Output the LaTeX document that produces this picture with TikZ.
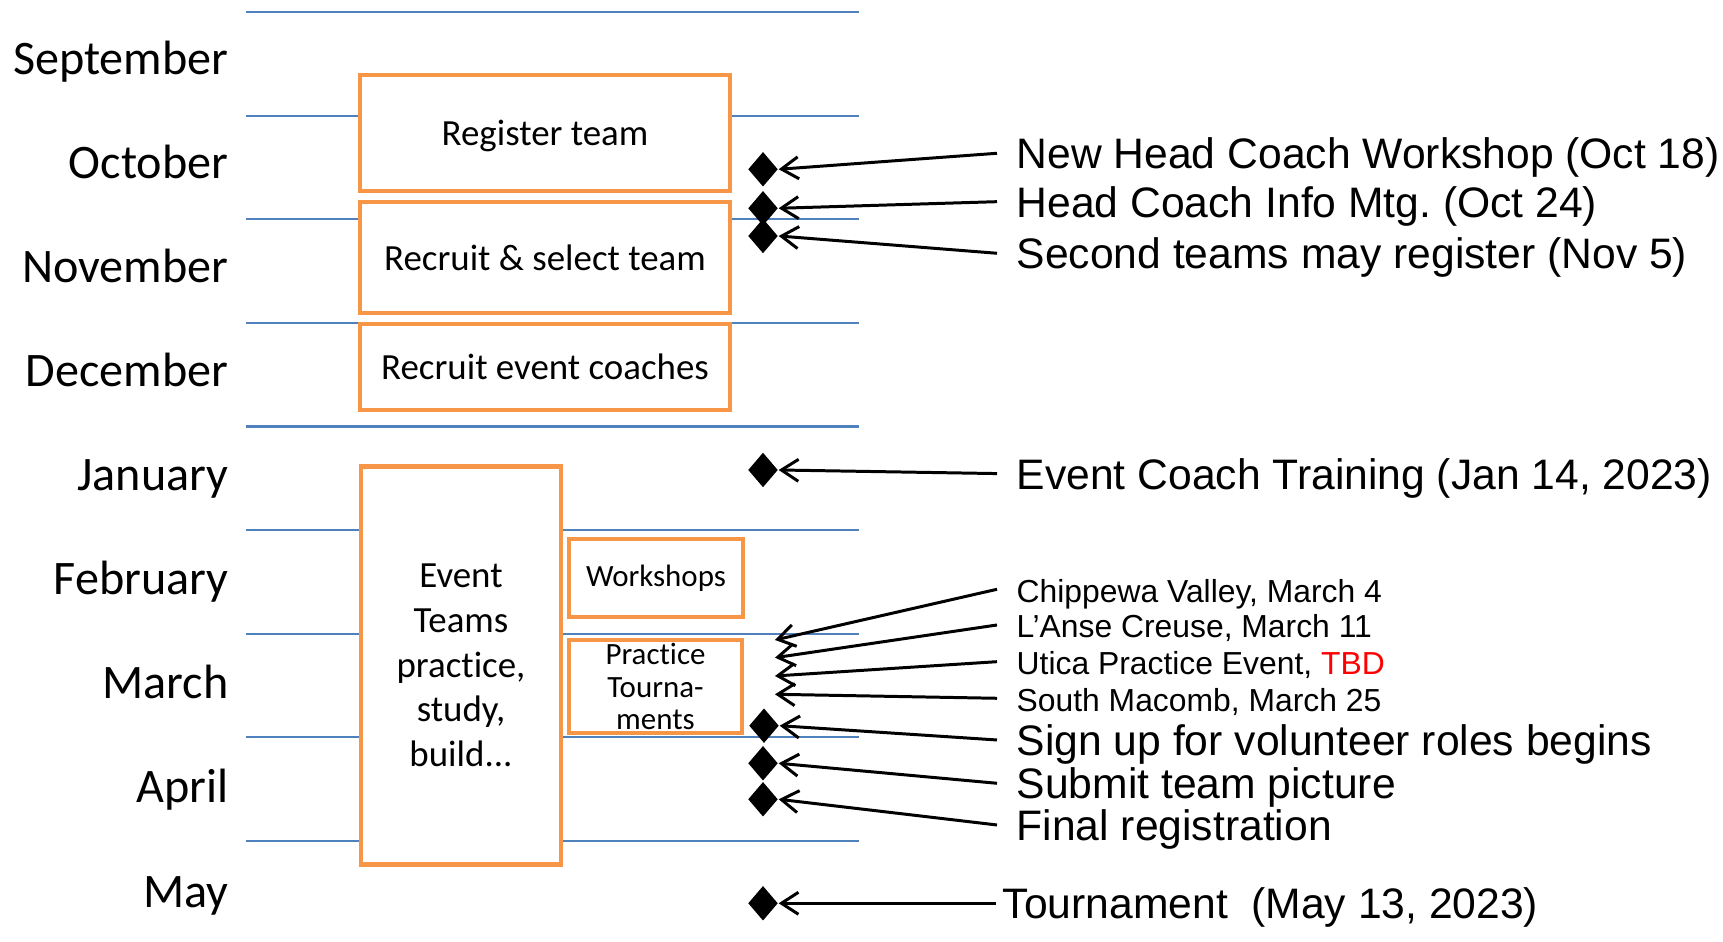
\documentclass[tikz,border=0pt]{standalone}
\usepackage{fontspec}
\setmainfont{Carlito}[Ligatures=NoCommon]
\newfontfamily\arialfont{Liberation Sans}
\usetikzlibrary{arrows.meta,shapes.geometric}
\definecolor{boxorange}{HTML}{F79646}
\definecolor{lineblue}{HTML}{4F81BD}
\tikzset{
	monthline/.style={lineblue, line width=0.6pt},
	month/.style={anchor=base east, inner sep=0pt, font=\fontsize{13.7}{16}\selectfont},
	taskbox/.style={draw=boxorange, line width=1.4pt, fill=white, align=center, inner sep=0pt, font=\fontsize{10.5}{12.7}\selectfont},
	smallbox/.style={taskbox, font=\fontsize{8.8}{9.2}\selectfont},
	milestone/.style={diamond, fill=black, inner sep=0pt, minimum width=0.30cm, minimum height=0.35cm},
	bigtext/.style={anchor=west, inner xsep=0.19cm, inner ysep=0pt, text height=0.88em, text depth=0pt, font=\arialfont\fontsize{12.13}{14}\selectfont},
	smalltext/.style={bigtext, text height=0.74em, font=\arialfont\fontsize{9.06}{10}\selectfont},
	pointer/.style={line width=0.85pt, -{Straight Barb[length=0.17cm, width=0.22cm]}}
}
\frenchspacing

\begin{document}
\begin{tikzpicture}
			%%%%% START %%%%%
			\useasboundingbox (0, 0) rectangle (17.23, 9.42);
			
			% month grid
			\foreach \i in {0,...,8}
				\draw[monthline] (2.46, {9.299-1.036*\i}) -- (8.59, {9.299-1.036*\i});
			\foreach \m [count=\i from 0] in {September, October, November, December, January, February, March, April, May}
				\node[month] (month\i) at (2.29, {8.677-1.041*\i}) {\m};
			
			% tasks
			\node[taskbox, minimum width=3.70cm, minimum height=1.16cm, text depth=0pt] (register) at (5.45, 8.09) {Register team};
			\node[taskbox, minimum width=3.70cm, minimum height=1.11cm] (recruit) at (5.45, 6.845) {Recruit \& select team};
			\node[taskbox, minimum width=3.70cm, minimum height=0.86cm] (coaches) at (5.45, 5.75) {Recruit event coaches};
			\node[taskbox, minimum width=2.00cm, minimum height=3.98cm] (teams) at (4.61, 2.765) {Event\\Teams\\practice,\\study,\\build...};
			\node[smallbox, minimum width=1.74cm, minimum height=0.78cm] (workshops) at (6.56, 3.64) {Workshops};
			\node[smallbox, minimum width=1.73cm, minimum height=0.93cm] (practice) at (6.555, 2.555) {Practice\\Tourna-\\ments};
			
			% milestones
			\node[milestone] (dWorkshop) at (7.63, 7.727) {};
			\node[milestone] (dInfoMtg) at (7.63, 7.337) {};
			\node[milestone] (dSecond) at (7.63, 7.06) {};
			\node[milestone] (dTraining) at (7.63, 4.72) {};
			\node[milestone] (dSignup) at (7.64, 2.163) {};
			\node[milestone] (dPicture) at (7.63, 1.787) {};
			\node[milestone] (dFinal) at (7.63, 1.427) {};
			\node[milestone] (dTournament) at (7.63, 0.387) {};
			\coordinate (pChippewa) at (7.75, 3.02);
			\coordinate (pLAnse) at (7.75, 2.843);
			\coordinate (pUtica) at (7.75, 2.66);
			\coordinate (pMacomb) at (7.75, 2.477);
			
			% labels
			\node[bigtext] (lWorkshop) at (9.97, 7.887) {New Head Coach Workshop (Oct 18)};
			\node[bigtext] (lInfoMtg) at (9.97, 7.403) {Head Coach Info Mtg. (Oct 24)};
			\node[bigtext] (lSecond) at (9.97, 6.887) {Second teams may register (Nov 5)};
			\node[bigtext] (lTraining) at (9.97, 4.684) {Event Coach Training (Jan 14, 2023)};
			\node[smalltext] (lChippewa) at (9.97, 3.527) {Chippewa Valley, March 4};
			\node[smalltext] (lLAnse) at (9.97, 3.17) {L’Anse Creuse, March 11};
			\node[smalltext] (lUtica) at (9.97, 2.803) {Utica Practice Event, \textcolor{red}{TBD}};
			\node[smalltext] (lMacomb) at (9.97, 2.437) {South Macomb, March 25};
			\node[bigtext] (lSignup) at (9.97, 2.02) {Sign up for volunteer roles begins};
			\node[bigtext] (lPicture) at (9.97, 1.587) {Submit team picture};
			\node[bigtext] (lFinal) at (9.97, 1.17) {Final registration};
			\node[bigtext, inner xsep=0.06cm] (lTournament) at (9.96, 0.387) {Tournament~ (May 13, 2023)};
			
			% pointers
			\draw[pointer] (lWorkshop.west) -- (dWorkshop.east);
			\draw[pointer] (lInfoMtg.west) -- (dInfoMtg.east);
			\draw[pointer] (lSecond.west) -- (dSecond.east);
			\draw[pointer] (lTraining.west) -- (dTraining.east);
			\draw[pointer] (lChippewa.west) -- (pChippewa);
			\draw[pointer] (lLAnse.west) -- (pLAnse);
			\draw[pointer] (lUtica.west) -- (pUtica);
			\draw[pointer] (lMacomb.west) -- (pMacomb);
			\draw[pointer] (lSignup.west) -- (dSignup.east);
			\draw[pointer] (lPicture.west) -- (dPicture.east);
			\draw[pointer] (lFinal.west) -- (dFinal.east);
			\draw[pointer] (lTournament.west) -- (dTournament.east);
			%%%%% END %%%%%
\end{tikzpicture}
\end{document}
